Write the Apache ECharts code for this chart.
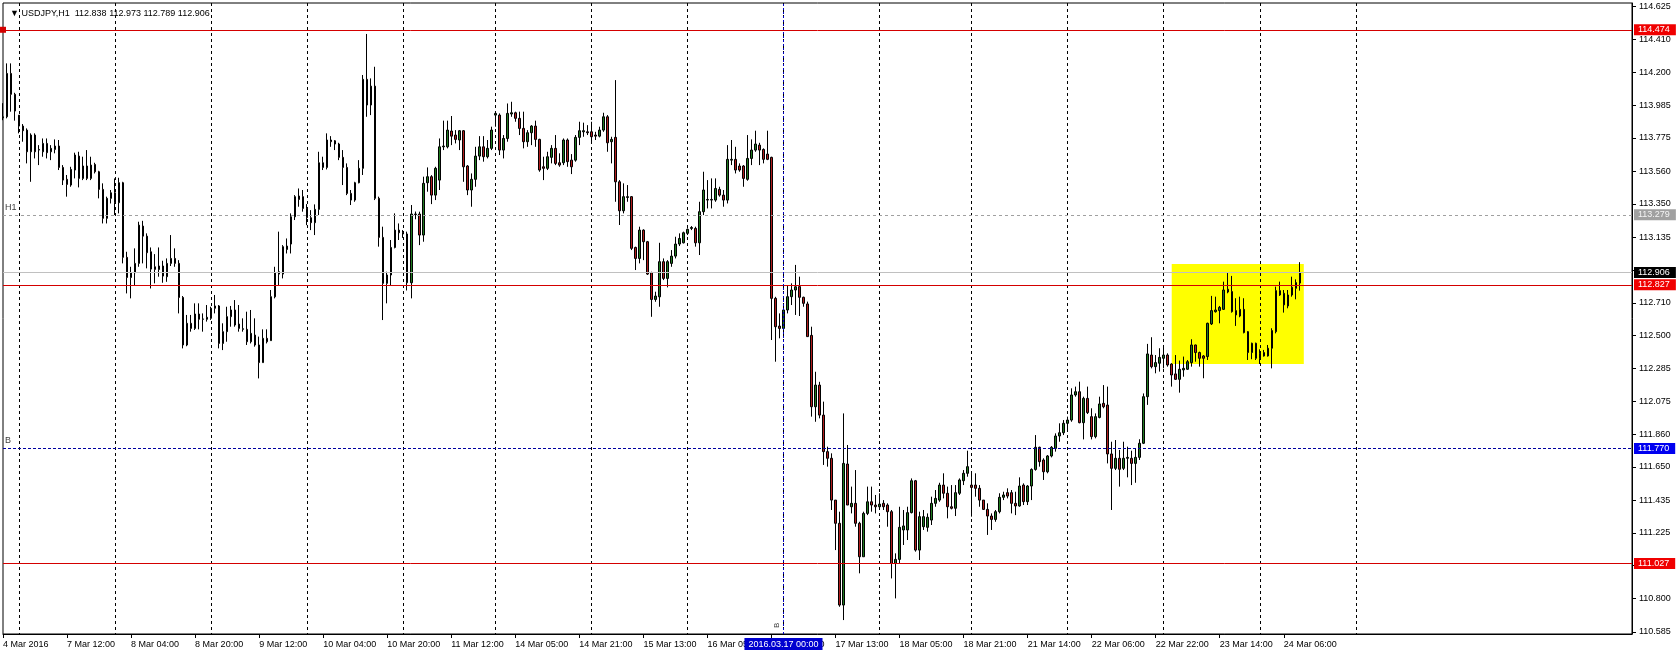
<!DOCTYPE html>
<html><head><meta charset="utf-8">
<script src="https://cdn.jsdelivr.net/npm/echarts@6/dist/echarts.min.js"></script>
<style>html,body{margin:0;padding:0;background:#fff}#c{width:1676px;height:657px}</style>
</head><body><div id="c"></div>
<script>
const symbolName = 'USDJPY';
const timeframe = 'H1';
const firstBarTime = '2016-03-04T19:00:00Z';
const totalSlots = 408;

const opens = [
113.905,113.912,114.192,114.057,113.923,113.852,113.826,113.686,113.794,113.697,
113.686,113.740,113.686,113.701,113.723,113.585,113.508,113.471,113.568,113.658,
113.514,113.594,113.514,113.604,113.557,113.443,113.256,113.385,113.421,113.357,
113.486,113.004,112.874,112.905,112.965,113.206,113.141,113.040,112.943,112.926,
112.948,112.879,112.965,112.997,112.965,112.745,112.438,112.578,112.545,112.638,
112.604,112.604,112.610,112.690,112.690,112.448,112.524,112.621,112.664,112.573,
112.539,112.539,112.459,112.502,112.438,112.324,112.481,112.466,112.749,112.896,
112.896,113.055,113.090,113.266,113.400,113.396,113.320,113.260,113.228,113.314,
113.585,113.585,113.762,113.757,113.736,113.650,113.585,113.417,113.374,113.486,
113.579,114.154,113.988,114.110,113.385,113.133,112.836,112.890,113.068,113.180,
113.163,113.155,112.840,113.284,113.284,113.148,113.486,113.525,113.406,113.503,
113.718,113.718,113.820,113.794,113.762,113.822,113.594,113.439,113.508,113.658,
113.718,113.654,113.708,113.923,113.923,113.697,113.772,113.930,113.938,113.902,
113.837,113.751,113.809,113.852,113.766,113.589,113.579,113.650,113.708,113.615,
113.615,113.762,113.632,113.632,113.779,113.815,113.815,113.815,113.794,113.787,
113.826,113.912,113.751,113.779,113.492,113.305,113.391,113.396,113.068,112.997,
113.180,113.105,112.905,112.732,112.749,112.976,112.868,112.965,113.012,113.090,
113.098,113.159,113.191,113.191,113.098,113.299,113.374,113.378,113.374,113.443,
113.406,113.374,113.632,113.637,113.594,113.594,113.508,113.643,113.697,113.729,
113.701,113.671,113.650,112.739,112.560,112.545,112.664,112.750,112.793,112.815,
112.746,112.703,112.500,112.039,112.179,111.985,111.749,111.706,111.436,111.286,
110.758,111.669,111.393,111.415,111.286,111.070,111.350,111.425,111.404,111.393,
111.415,111.404,111.361,111.027,111.053,111.243,111.243,111.355,111.561,111.113,
111.264,111.260,111.307,111.415,111.436,111.533,111.480,111.393,111.383,111.480,
111.561,111.609,111.533,111.533,111.512,111.436,111.376,111.333,111.311,111.361,
111.454,111.484,111.484,111.415,111.398,111.533,111.426,111.527,111.634,111.777,
111.695,111.619,111.721,111.770,111.850,111.871,111.932,111.953,112.115,112.136,
111.936,112.093,111.975,111.846,111.970,112.061,112.050,111.734,111.641,111.706,
111.641,111.706,111.706,111.673,111.712,111.803,112.104,112.373,112.298,112.320,
112.352,112.373,112.315,112.251,112.216,112.277,112.281,112.324,112.438,112.389,
112.367,112.363,112.574,112.653,112.660,112.668,112.780,112.783,112.660,112.625,
112.668,112.524,112.389,112.449,112.352,112.389,112.367,112.417,112.524,112.789,
112.772,112.690,112.761,112.804,112.838
];
const highs = [
114.000,114.257,114.257,114.067,113.923,113.865,113.837,113.805,113.805,113.729,
113.772,113.772,113.729,113.766,113.762,113.600,113.536,113.589,113.680,113.686,
113.654,113.697,113.654,113.615,113.563,113.482,113.396,113.439,113.514,113.518,
113.492,113.040,112.943,113.062,113.234,113.240,113.159,113.068,113.025,113.068,
112.982,112.997,113.148,113.062,112.986,112.754,112.632,112.632,112.707,112.707,
112.642,112.696,112.685,112.761,112.696,112.578,112.685,112.690,112.728,112.696,
112.610,112.653,112.664,112.610,112.492,112.539,112.539,112.793,112.943,113.170,
113.083,113.126,113.288,113.406,113.449,113.439,113.348,113.309,113.346,113.686,
113.654,113.805,113.787,113.762,113.744,113.697,113.611,113.439,113.492,113.632,
114.182,114.447,114.160,114.235,113.396,113.202,112.911,113.116,113.288,113.223,
113.180,113.170,113.342,113.300,113.299,113.525,113.585,113.535,113.589,113.772,
113.887,113.887,113.917,113.826,113.826,113.826,113.600,113.546,113.718,113.787,
113.787,113.762,113.848,113.945,113.934,113.794,113.998,114.009,113.945,113.945,
113.945,113.826,113.858,113.887,113.770,113.654,113.686,113.729,113.794,113.676,
113.772,113.772,113.671,113.794,113.880,113.874,113.858,113.880,113.815,113.848,
113.938,113.923,113.783,114.149,113.503,113.482,113.471,113.400,113.073,113.202,
113.185,113.110,112.911,112.782,113.098,112.997,112.986,113.051,113.137,113.159,
113.170,113.191,113.206,113.202,113.363,113.557,113.503,113.514,113.514,113.460,
113.439,113.729,113.762,113.718,113.611,113.600,113.794,113.766,113.822,113.744,
113.708,113.822,113.654,112.749,112.642,112.696,112.825,112.836,112.955,112.879,
112.750,112.718,112.556,112.265,112.200,112.072,111.781,111.738,111.436,111.361,
111.996,111.792,111.523,111.630,111.296,111.361,111.523,111.523,111.469,111.480,
111.436,111.415,111.372,111.092,111.393,111.372,111.393,111.576,111.566,111.361,
111.372,111.350,111.458,111.501,111.548,111.609,111.523,111.533,111.533,111.576,
111.630,111.755,111.609,111.609,111.533,111.436,111.415,111.350,111.372,111.480,
111.490,111.512,111.501,111.490,111.583,111.544,111.533,111.641,111.856,111.781,
111.706,111.727,111.785,111.867,111.932,111.953,111.975,112.158,112.169,112.201,
112.104,112.169,112.029,111.996,112.104,112.179,112.169,111.813,111.824,111.760,
111.813,111.781,111.755,111.770,111.829,112.125,112.445,112.488,112.373,112.417,
112.438,112.384,112.320,112.373,112.337,112.363,112.341,112.475,112.440,112.395,
112.373,112.582,112.755,112.750,112.690,112.847,112.905,112.884,112.740,112.750,
112.740,112.528,112.453,112.453,112.410,112.406,112.438,112.546,112.815,112.847,
112.793,112.793,112.879,112.862,112.973
];
const lows = [
113.890,113.902,113.945,113.887,113.805,113.751,113.611,113.492,113.643,113.600,
113.654,113.643,113.632,113.676,113.568,113.471,113.396,113.460,113.514,113.456,
113.503,113.503,113.503,113.546,113.385,113.223,113.223,113.352,113.277,113.288,
112.965,112.771,112.739,112.825,112.943,112.965,112.933,112.803,112.836,112.879,
112.840,112.846,112.948,112.943,112.642,112.416,112.430,112.524,112.535,112.539,
112.524,112.589,112.600,112.642,112.416,112.405,112.459,112.556,112.556,112.524,
112.524,112.438,112.448,112.427,112.222,112.324,112.448,112.466,112.739,112.825,
112.868,113.029,113.029,113.245,113.331,113.299,113.212,113.180,113.148,113.277,
113.568,113.572,113.718,113.697,113.632,113.471,113.406,113.342,113.363,113.482,
113.536,113.912,113.923,113.374,113.073,112.599,112.707,112.825,113.062,113.116,
113.130,112.790,112.739,113.250,113.083,113.105,113.428,113.348,113.374,113.439,
113.697,113.708,113.729,113.740,113.697,113.492,113.406,113.331,113.460,113.632,
113.622,113.643,113.697,113.848,113.665,113.643,113.751,113.912,113.880,113.794,
113.708,113.718,113.729,113.718,113.557,113.503,113.568,113.611,113.600,113.589,
113.600,113.589,113.542,113.622,113.729,113.783,113.794,113.751,113.762,113.779,
113.815,113.686,113.611,113.363,113.213,113.288,113.363,113.051,112.922,112.965,
112.986,112.890,112.620,112.717,112.685,112.857,112.810,112.943,112.997,113.077,
113.094,113.148,113.180,113.073,113.019,113.277,113.320,113.320,113.363,113.396,
113.331,113.352,113.600,113.546,113.557,113.460,113.499,113.600,113.686,113.600,
113.611,113.632,112.470,112.330,112.481,112.517,112.642,112.696,112.632,112.625,
112.685,112.492,111.975,111.942,111.964,111.663,111.652,111.372,111.113,110.747,
110.661,111.404,111.350,111.264,110.963,111.070,111.339,111.361,111.350,111.372,
111.372,111.264,110.930,110.801,111.027,111.146,111.178,111.350,111.103,111.049,
111.243,111.232,111.275,111.393,111.425,111.447,111.318,111.376,111.333,111.469,
111.533,111.587,111.329,111.458,111.393,111.372,111.211,111.243,111.296,111.350,
111.436,111.447,111.350,111.339,111.393,111.404,111.404,111.436,111.626,111.652,
111.566,111.609,111.712,111.749,111.813,111.856,111.878,111.942,112.104,111.932,
111.828,111.992,111.828,111.835,111.964,112.029,111.673,111.372,111.630,111.523,
111.630,111.583,111.533,111.548,111.695,111.798,112.051,112.287,112.255,112.266,
112.287,112.298,112.169,112.212,112.130,112.233,112.277,112.298,112.330,112.298,
112.223,112.341,112.567,112.647,112.578,112.664,112.772,112.647,112.561,112.617,
112.513,112.341,112.346,112.341,112.315,112.363,112.363,112.287,112.513,112.755,
112.647,112.675,112.750,112.733,112.789
];
const closes = [
113.912,114.192,114.057,113.949,113.852,113.822,113.686,113.794,113.686,113.701,
113.740,113.680,113.708,113.723,113.585,113.503,113.475,113.572,113.665,113.514,
113.594,113.514,113.600,113.557,113.443,113.256,113.385,113.421,113.357,113.486,
113.004,112.874,112.905,112.965,113.212,113.141,113.034,112.928,112.926,112.948,
112.883,112.965,112.997,112.965,112.745,112.438,112.578,112.545,112.638,112.604,
112.606,112.617,112.675,112.675,112.448,112.524,112.621,112.664,112.567,112.545,
112.543,112.459,112.513,112.438,112.324,112.481,112.459,112.750,112.905,112.911,
113.073,113.077,113.266,113.396,113.378,113.320,113.260,113.228,113.314,113.615,
113.615,113.762,113.751,113.736,113.650,113.585,113.417,113.374,113.486,113.579,
114.154,113.988,114.110,113.385,113.133,112.836,112.890,113.068,113.180,113.163,
113.155,112.840,113.284,113.280,113.148,113.482,113.525,113.406,113.579,113.718,
113.723,113.826,113.787,113.766,113.822,113.589,113.439,113.508,113.658,113.718,
113.654,113.708,113.826,113.934,113.697,113.772,113.934,113.938,113.902,113.837,
113.751,113.809,113.852,113.766,113.568,113.579,113.654,113.708,113.611,113.600,
113.762,113.622,113.589,113.779,113.822,113.822,113.809,113.783,113.787,113.826,
113.912,113.744,113.766,113.492,113.305,113.396,113.396,113.062,112.997,113.180,
113.105,112.896,112.732,112.754,112.976,112.868,112.976,113.012,113.090,113.126,
113.163,113.185,113.197,113.098,113.299,113.439,113.378,113.374,113.449,113.406,
113.374,113.637,113.637,113.568,113.568,113.514,113.643,113.697,113.736,113.697,
113.637,113.637,112.739,112.556,112.545,112.664,112.750,112.793,112.814,112.746,
112.707,112.492,112.039,112.179,111.985,111.749,111.706,111.436,111.286,110.758,
111.673,111.404,111.415,111.286,111.070,111.350,111.425,111.404,111.393,111.410,
111.393,111.361,111.027,111.053,111.260,111.269,111.355,111.561,111.113,111.329,
111.329,111.325,111.415,111.447,111.533,111.480,111.393,111.383,111.484,111.566,
111.609,111.652,111.518,111.512,111.436,111.376,111.333,111.311,111.361,111.454,
111.469,111.462,111.415,111.398,111.527,111.426,111.527,111.634,111.777,111.684,
111.619,111.721,111.777,111.850,111.871,111.932,111.953,112.115,112.136,111.936,
112.093,112.001,111.846,111.975,112.057,112.039,111.734,111.641,111.706,111.635,
111.706,111.712,111.673,111.712,111.803,112.104,112.380,112.298,112.324,112.358,
112.373,112.309,112.244,112.216,112.281,112.287,112.330,112.438,112.389,112.352,
112.352,112.578,112.660,112.664,112.681,112.793,112.798,112.653,112.632,112.668,
112.518,112.389,112.449,112.352,112.384,112.367,112.417,112.531,112.789,112.761,
112.697,112.761,112.811,112.841,112.906
];

const yTickValues = [110.585,110.800,111.015,111.225,111.435,111.650,111.860,112.075,112.285,112.500,
  112.710,112.920,113.135,113.350,113.560,113.775,113.985,114.200,114.410,114.625];
const redLevels = [114.474, 112.827, 111.027];
const selectedRedLevel = 114.474;
const h1Level = 113.279;
const h1Name = 'H1';
const buyLevel = 111.770;
const buyName = 'B';
const markedTime = '2016.03.17 00:00';
const boxTimes = ['2016.03.23 02:00', '2016.03.24 11:00'];
const boxPrices = [112.961, 112.315];
const monthNames = ['Jan','Feb','Mar','Apr','May','Jun','Jul','Aug','Sep','Oct','Nov','Dec'];

// build hourly category axis (Mon-Fri, Friday ends 22:00)
const pad = n => String(n).padStart(2, '0');
const categories = [];
let t = Date.parse(firstBarTime);
while (categories.length < totalSlots) {
  const d = new Date(t);
  const wd = d.getUTCDay(), h = d.getUTCHours();
  if (wd !== 0 && wd !== 6 && !(wd === 5 && h === 23)) {
    categories.push(d.getUTCFullYear() + '.' + pad(d.getUTCMonth() + 1) + '.' + pad(d.getUTCDate()) + ' ' + pad(h) + ':00');
  }
  t += 3600000;
}
const nBars = closes.length;
const last = nBars - 1;
const candleData = closes.map((c, i) => [opens[i], c, lows[i], highs[i]]);

const FONT = 'Liberation Sans';
const txt = { fontFamily: FONT, fontSize: 9, color: '#000' };
const labelInterval = (idx) => idx % 16 === 0 && idx <= last;
const gridInterval = (idx, val) => (typeof val === 'string' ? val : categories[idx]).endsWith(' 00:00') && idx <= last + 24;
const fmtCat = (s, idx) => {
  const day = parseInt(s.slice(8, 10), 10);
  const mon = monthNames[parseInt(s.slice(5, 7), 10) - 1];
  return idx === 0 ? day + ' ' + mon + ' ' + s.slice(0, 4) : day + ' ' + mon + ' ' + s.slice(11);
};

const priceBox = (v, bg, fg) => ({
  yAxis: v,
  label: { show: true, position: 'end', distance: 2, formatter: v.toFixed(3), backgroundColor: bg, color: fg,
    fontFamily: FONT, fontSize: 9, padding: [1, 6, 0, 4], lineHeight: 10 }
});
const HIDDEN = 'rgba(0,0,0,0)';

const markLines = [];
redLevels.forEach(v => {
  const it = priceBox(v, '#f00000', '#fff');
  it.lineStyle = { color: '#d40000', width: 1, type: 'solid' };
  if (v === selectedRedLevel) { it.symbol = ['emptyRect', 'emptyRect']; it.symbolSize = 6; }
  markLines.push(it);
});
const h1 = priceBox(h1Level, '#a0a0a0', '#f4f4f4');
h1.lineStyle = { color: '#a0a0a0', width: 1, type: [3, 3] };
markLines.push(h1);
const bid = priceBox(closes[last], '#000', '#fff');
bid.lineStyle = { color: '#c0c0c0', width: 1, type: 'solid' };
markLines.push(bid);
const buy = priceBox(buyLevel, '#0000f0', '#fff');
buy.lineStyle = { color: '#0000a0', width: 1, type: [3, 2] };
markLines.push(buy);
markLines.push({ yAxis: h1Level + 0.00001, lineStyle: { color: HIDDEN, width: 0 },
  label: { show: true, position: 'insideStartTop', distance: [2, 3], formatter: h1Name, color: '#404040', fontFamily: FONT, fontSize: 9 } });
markLines.push({ yAxis: buyLevel + 0.00001, lineStyle: { color: HIDDEN, width: 0 },
  label: { show: true, position: 'insideStartTop', distance: [2, 3], formatter: buyName, color: '#404040', fontFamily: FONT, fontSize: 9 } });
markLines.push({ xAxis: markedTime, lineStyle: { color: '#0000c0', width: 1, type: [2, 2] },
  label: { show: true, position: 'start', distance: 4, formatter: markedTime, backgroundColor: '#0000d0', color: '#fff',
    fontFamily: FONT, fontSize: 9, padding: [2, 4, 1, 4] } });
markLines.push({ xAxis: markedTime, lineStyle: { color: HIDDEN, width: 0 },
  label: { show: true, position: 'insideStartTop', distance: [6, 3], formatter: buyName, color: '#404040', fontFamily: FONT, fontSize: 8 } });

const chart = echarts.init(document.getElementById('c'), null, { renderer: 'canvas' });
chart.setOption({
  animation: false,
  backgroundColor: '#fff',
  title: {
    text: '\u25BC ' + symbolName + ',' + timeframe + '  ' + [opens[last], highs[last], lows[last], closes[last]].map(v => v.toFixed(3)).join(' '),
    left: 5, top: 4,
    textStyle: { fontFamily: FONT, fontSize: 9, fontWeight: 'normal', color: '#000' }
  },
  grid: { left: 3, top: 3, width: 1629, height: 631, show: true, borderColor: '#000', borderWidth: 1, backgroundColor: 'transparent' },
  xAxis: {
    type: 'category', data: categories, boundaryGap: false,
    axisLine: { show: true, lineStyle: { color: '#000', width: 1 } },
    axisTick: { show: true, interval: labelInterval, length: 4, lineStyle: { color: '#000' } },
    axisLabel: { interval: labelInterval, formatter: fmtCat, align: 'left', margin: 6, ...txt },
    splitLine: { show: true, interval: gridInterval, lineStyle: { color: '#000', width: 1, type: [3, 3] } }
  },
  yAxis: {
    type: 'value', position: 'right', min: 110.571, max: 114.647, scale: true,
    axisLine: { show: true, lineStyle: { color: '#000', width: 1 } },
    axisTick: { show: true, length: 4, customValues: yTickValues, lineStyle: { color: '#000' } },
    axisLabel: { customValues: yTickValues, formatter: v => v.toFixed(3), margin: 7, ...txt },
    splitLine: { show: false }
  },
  series: [{
    type: 'candlestick',
    data: candleData,
    barWidth: 2,
    clip: false,
    itemStyle: { color: '#1f7a1f', color0: '#b01c1c', borderColor: '#000', borderColor0: '#000', borderColorDoji: '#000', borderWidth: 1 },
    markLine: { silent: true, symbol: ['none', 'none'], animation: false, precision: 5, data: markLines },
    markArea: { silent: true, z: -1, itemStyle: { color: '#ffff00', opacity: 1 },
      data: [[{ xAxis: boxTimes[0], yAxis: boxPrices[0] }, { xAxis: boxTimes[1], yAxis: boxPrices[1] }]] }
  }]
});
</script>
</body></html>
